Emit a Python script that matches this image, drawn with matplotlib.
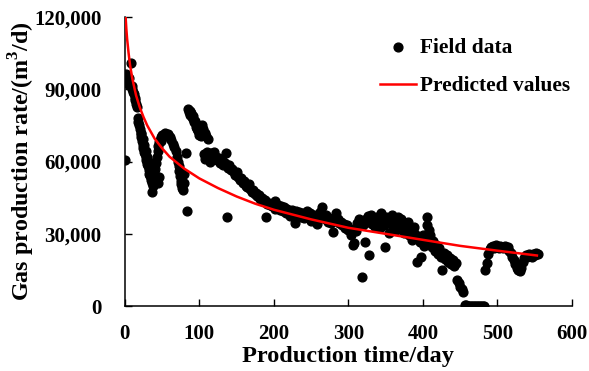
import numpy as np
import matplotlib
matplotlib.use("Agg")
import matplotlib.pyplot as plt
from matplotlib.ticker import FuncFormatter

# Field data (day, gas rate m3/d)
field_day = [0, 1, 2, 3, 4, 5, 6, 8, 9, 10, 11, 12, 13, 14, 15, 16,
             17, 18, 19, 20, 21, 22, 23, 24, 25, 26, 27, 28, 29, 30, 31, 32,
             33, 34, 35, 36, 37, 38, 39, 40, 41, 42, 43, 44, 45, 46, 47, 48,
             49, 50, 52, 54, 56, 58, 60, 62, 64, 66, 68, 70, 71, 72, 73, 74,
             75, 76, 77, 78, 79, 80, 82, 83, 85, 86, 87, 88, 89, 90, 91, 92,
             93, 94, 95, 96, 97, 98, 99, 100, 101, 102, 103, 104, 105, 107, 109, 111,
             106, 108, 110, 112, 114, 116, 118, 120, 122, 124, 126, 128, 130, 132, 134, 136,
             137, 138, 140, 142, 144, 146, 148, 150, 152, 154, 156, 158, 160, 162, 164, 166,
             168, 170, 172, 174, 176, 178, 180, 182, 184, 186, 188, 190, 191, 193, 195, 197,
             199, 201, 202, 204, 206, 208, 210, 212, 214, 216, 218, 220, 222, 224, 226, 228,
             230, 232, 234, 236, 238, 240, 242, 244, 246, 248, 250, 252, 254, 256, 258, 260,
             262, 264, 266, 268, 270, 272, 274, 276, 278, 280, 282, 284, 286, 288, 290, 292,
             294, 296, 298, 300, 302, 304, 306, 308, 310, 312, 314, 316, 318, 320, 322, 324,
             326, 327, 328, 330, 332, 334, 336, 338, 340, 342, 344, 346, 348, 349, 350, 352,
             354, 356, 358, 360, 362, 364, 366, 368, 370, 372, 374, 376, 378, 380, 382, 384,
             386, 388, 390, 392, 394, 396, 398, 400, 402, 404, 405, 406, 408, 410, 412, 414,
             416, 418, 420, 422, 424, 426, 428, 430, 432, 434, 436, 438, 440, 442, 444, 446,
             448, 450, 452, 454, 456, 458, 460, 462, 464, 466, 468, 470, 472, 474, 476, 478,
             480, 482, 484, 486, 488, 490, 492, 494, 496, 498, 500, 502, 504, 506, 508, 510,
             512, 514, 516, 518, 520, 522, 524, 526, 528, 530, 532, 534, 536, 538, 540, 542,
             544, 546, 548, 550, 552, 554,
             22, 24, 26, 28, 30, 32, 34, 36, 38, 40, 42, 44, 46]
field_rate = [60600, 95000, 96500, 94000, 93000, 94500, 92000, 101000, 91500, 90000, 89000, 88000, 86500, 85500, 84000, 82500,
              78000, 76500, 75000, 73500, 71500, 70000, 68500, 67000, 65500, 64000, 63000, 62000, 60500, 59000, 58000, 56500,
              55000, 54000, 52500, 51000, 47500, 50000, 52000, 54500, 57000, 59500, 62000, 64500, 66500, 68000, 69000, 68500,
              70000, 71000, 70500, 72000, 70500, 71500, 70000, 69000, 67500, 66000, 64500, 62000, 60000, 58000, 56000, 54000,
              52000, 50500, 49000, 48000, 51000, 55000, 63500, 39500, 82000, 80500, 81000, 79500, 80000, 78500, 79000, 77500,
              76500, 77000, 75500, 74500, 73500, 72500, 74000, 71000, 72000, 70500, 73000, 75000, 73500, 72000, 70500, 69500,
              63000, 61000, 64000, 62500, 60000, 63500, 61500, 64000, 62000, 60500, 61500, 59500, 60500, 58500, 59500, 63500,
              37000, 57500, 58500, 56500, 57000, 55500, 54500, 55500, 53500, 52500, 53000, 51000, 52000, 50000, 49500, 50500,
              48500, 47500, 48000, 46500, 47000, 45500, 46000, 44500, 45000, 43500, 44000, 37000, 42500, 43000, 42000, 41500,
              42500, 40500, 43500, 41000, 42000, 40000, 41500, 39500, 41000, 38500, 40500, 39000, 37500, 40000, 38500, 34400,
              39500, 38000, 39000, 37000, 38500, 36500, 38000, 39500, 37000, 38500, 35500, 37500, 38000, 36000, 34000, 37000,
              39000, 41000, 37500, 36000, 38000, 35000, 36500, 34500, 35500, 30700, 37000, 38500, 36000, 34500, 35000, 33500,
              34000, 32500, 33500, 31500, 32000, 29500, 25300, 26000, 31000, 34500, 36000, 35500, 12000, 33500, 26500, 36000,
              37500, 21000, 35000, 38000, 34000, 36500, 33000, 37000, 35500, 32500, 38500, 36000, 33500, 24500, 37000, 34500,
              30500, 36500, 38000, 33000, 35500, 31500, 37000, 34000, 36000, 33500, 30500, 34500, 32000, 35000, 29500, 31000,
              27500, 33000, 30000, 18300, 28500, 26500, 20300, 29500, 25000, 27500, 37000, 33500, 31500, 29500, 24500, 27000,
              23000, 25500, 21500, 24000, 20500, 15000, 22000, 19500, 21000, 18500, 20000, 17500, 19000, 16500, 18000, 11000,
              9500, 8000, 7000, 5800, 500, 300, 0, 0, 0, 0, 0, 0, 0, 0, 0, 0,
              0, 0, 15000, 18000, 21500, 23500, 24500, 25000, 24000, 25500, 24500, 24000, 25000, 24500, 24000, 25000,
              24000, 24500, 23000, 22000, 20500, 19000, 17500, 16000, 15000, 14500, 16000, 18500, 20000, 21000, 20500, 21500,
              21000, 20500, 21500, 21000, 22000, 21500,
              72000, 69500, 67000, 64500, 62000, 60000, 58000, 56000, 54500, 53000, 52000, 51000, 53500]

# Predicted decline curve
pred_day = [1, 2, 3, 5, 7, 10, 15, 20, 25, 30, 40, 50, 60, 80, 100, 125, 150,
            175, 200, 250, 300, 350, 400, 450, 500, 553]
pred_rate = [120000, 115000, 111000, 105000, 100000, 94500, 87500, 82500, 78500,
             75000, 69500, 65500, 62000, 57000, 53000, 49000, 45500, 42500, 40000,
             36000, 32500, 30000, 27500, 25000, 23000, 21000]

plt.rcParams['font.family'] = ['Liberation Serif', 'DejaVu Serif']
plt.rcParams['font.weight'] = 'bold'
plt.rcParams['mathtext.fontset'] = 'custom'
plt.rcParams['mathtext.rm'] = 'Liberation Serif:bold'

fig = plt.figure(figsize=(5.89, 3.71), dpi=100)
ax = fig.add_axes([0.212, 0.175, 0.759, 0.779])

ax.scatter(field_day, field_rate, s=40, color='black', zorder=2, label='Field data')
ax.plot(pred_day, pred_rate, color='#ff0000', lw=1.8, zorder=3, label='Predicted values')

ax.set_xlim(0, 600)
ax.set_ylim(0, 120000)
ax.set_xticks(np.arange(0, 601, 100))
ax.set_yticks(np.arange(0, 120001, 30000))
ax.yaxis.set_major_formatter(FuncFormatter(lambda v, p: f'{int(v):,}'))
ax.tick_params(direction='in', length=5, width=1, labelsize=15)
ax.tick_params(axis='x', pad=13)
ax.tick_params(axis='y', pad=17)
for lab in ax.get_xticklabels() + ax.get_yticklabels():
    lab.set_fontweight('bold')

for side in ['top', 'right']:
    ax.spines[side].set_visible(False)
for side in ['left', 'bottom']:
    ax.spines[side].set_linewidth(1.1)

ax.set_xlabel('Production time/day', fontsize=17.5, fontweight='bold', labelpad=1)
ax.set_ylabel('Gas production rate/(m$^3$/d)', fontsize=17.3, fontweight='bold', labelpad=-2)

ax.legend(loc='upper left', bbox_to_anchor=(380 / 589, 1 - 38 / 371),
          bbox_transform=fig.transFigure, frameon=False, borderpad=0,
          borderaxespad=0, handlelength=1.7, handletextpad=0.15, labelspacing=0.85,
          prop={'weight': 'bold', 'size': 15.4})

fig.savefig('out.png', dpi=100)
